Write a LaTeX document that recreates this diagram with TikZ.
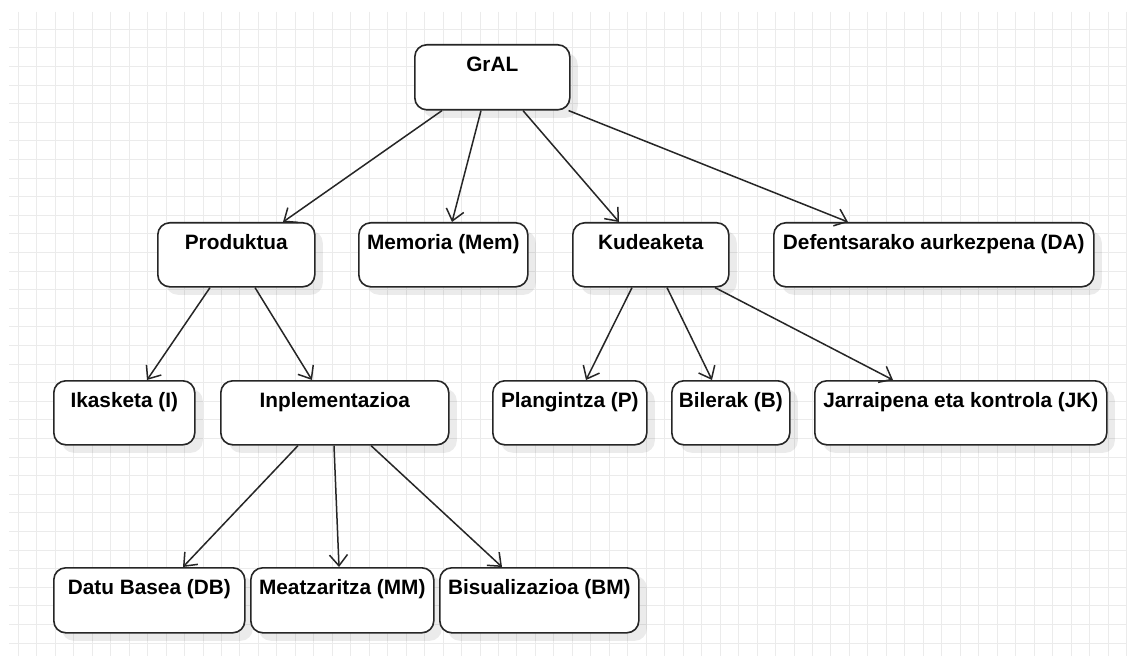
\documentclass[tikz,border=0pt]{standalone}
\usepackage{fontspec}
\setmainfont{Liberation Sans}
\usetikzlibrary{arrows.meta,shadows}

\definecolor{gridline}{HTML}{EBEBEB}
\definecolor{edgeink}{HTML}{262626}

\tikzset{
  boxnode/.style={draw=edgeink, line width=1.6pt, rounded corners=12pt, fill=white,
    anchor=north west, inner sep=0pt, text height=27pt, text depth=37pt,
    minimum height=64pt, font=\fontsize{20.8}{24}\selectfont\bfseries,
    drop shadow={shadow xshift=8pt, shadow yshift=-8pt, fill=black, opacity=0.08}},
  link/.style={draw=edgeink, line width=1.5pt,
    -{Straight Barb[length=11pt,width=18pt,line width=1.5pt]}},
  gridrule/.style={draw=gridline, line width=1pt}
}

\begin{document}
\begin{tikzpicture}[x=1pt, y=-1pt]
  \useasboundingbox (0,0) rectangle (1135,663);
  \fill[white] (0,0) rectangle (1135,663);

  % background grid
  \foreach \k in {0,...,60}
    \draw[gridrule] ({18.3+18.47*\k},12) -- ({18.3+18.47*\k},656);
  \foreach \k in {0,...,33}
    \draw[gridrule] (9,{29.3+18.6*\k}) -- (1127,{29.3+18.6*\k});

  % tree nodes
  \node[boxnode, minimum width=155pt, minimum height=65pt, text depth=38pt] (gral) at (414,44) {GrAL};

  \node[boxnode, minimum width=157pt] (prod) at (157,222) {Produktua};
  \node[boxnode, minimum width=169pt] (mem)  at (358,222) {Memoria (Mem)};
  \node[boxnode, minimum width=156pt] (kude) at (572,222) {Kudeaketa};
  \node[boxnode, minimum width=320pt] (da)   at (773,222) {Defentsarako aurkezpena (DA)};

  \node[boxnode, minimum width=141pt] (ikas) at (53,380)  {Ikasketa (I)};
  \node[boxnode, minimum width=228pt] (inpl) at (220,380) {Inplementazioa};
  \node[boxnode, minimum width=154pt] (plan) at (492,380) {Plangintza (P)};
  \node[boxnode, minimum width=118pt] (bile) at (671,380) {Bilerak (B)};
  \node[boxnode, minimum width=292pt] (jarr) at (814,380) {Jarraipena eta kontrola (JK)};

  \node[boxnode, minimum width=191pt, minimum height=65pt, text depth=38pt] (db) at (53,567)  {Datu Basea (DB)};
  \node[boxnode, minimum width=183pt, minimum height=65pt, text depth=38pt] (mm) at (250,567) {Meatzaritza (MM)};
  \node[boxnode, minimum width=199pt, minimum height=65pt, text depth=38pt] (bm) at (439,567) {Bisualizazioa (BM)};

  % connectors
  \draw[link] ([xshift=28pt]gral.south west)  -- ([xshift=126pt]prod.north west);
  \draw[link] ([xshift=67pt]gral.south west)  -- ([xshift=94pt]mem.north west);
  \draw[link] ([xshift=109pt]gral.south west) -- ([xshift=47pt]kude.north west);
  \draw[link] ([xshift=-2pt]gral.south east)  -- ([xshift=75pt]da.north west);

  \draw[link] ([xshift=53pt]prod.south west)  -- ([xshift=94pt]ikas.north west);
  \draw[link] ([xshift=98pt]prod.south west)  -- ([xshift=92pt]inpl.north west);

  \draw[link] ([xshift=60pt]kude.south west)  -- ([xshift=94pt]plan.north west);
  \draw[link] ([xshift=95pt]kude.south west)  -- ([xshift=41pt]bile.north west);
  \draw[link] ([xshift=143pt]kude.south west) -- ([xshift=79pt]jarr.north west);

  \draw[link] ([xshift=78pt]inpl.south west)  -- ([xshift=130pt]db.north west);
  \draw[link] ([xshift=114pt]inpl.south west) -- ([xshift=89pt]mm.north west);
  \draw[link] ([xshift=151pt]inpl.south west) -- ([xshift=63pt]bm.north west);
\end{tikzpicture}
\end{document}
